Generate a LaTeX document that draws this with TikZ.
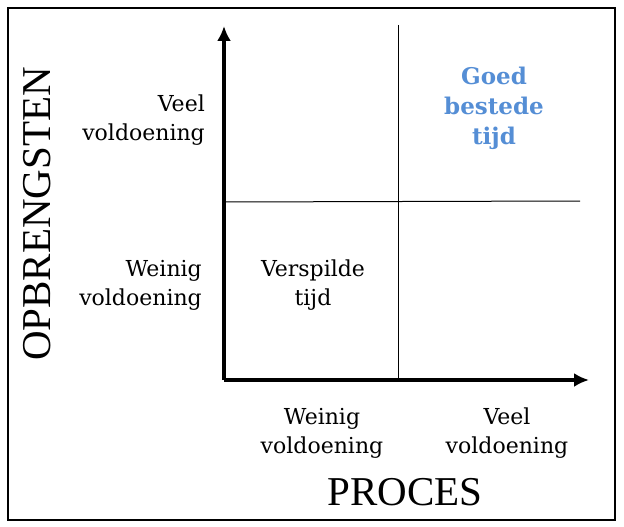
\documentclass[tikz,border=0pt]{standalone}
\usepackage{fontspec}
\setmainfont{DejaVu Serif}
\newfontfamily\titlefont{Liberation Serif}
\usetikzlibrary{positioning, arrows.meta}
\definecolor{goodblue}{RGB}{85,142,213}

\begin{document}
\begin{tikzpicture}[
      x=1pt, y=-1pt,
      every node/.style={inner sep=0pt, align=center, font=\fontsize{22}{29}\selectfont},
      axis/.style={line width=3.5pt, -{Latex[length=15pt, width=14pt]}},
      divider/.style={line width=1pt},
      title/.style={font=\titlefont\fontsize{41}{41}\selectfont}
    ]
    \useasboundingbox (0,0) rectangle (624,527);
    \draw[line width=2pt] (8,8) rectangle (615,520);

    \coordinate (origin) at (224,380);
    \coordinate (ytop) at (224,26);
    \coordinate (xend) at (589,380);
    \coordinate (midtop) at (398,25);
    \coordinate (midbot) at (398,380);
    \coordinate (midleft) at (224,202);
    \coordinate (midright) at (580,201);

    \draw[divider] (midtop) -- (midbot);
    \draw[divider] (midleft) -- (midright);
    \draw[axis] (origin) -- (ytop);
    \draw[axis] (origin) -- (xend);

    \node (yhigh) [anchor=east, align=right] at (205,120) {Veel\\voldoening};
    \node (ylow) [anchor=east, align=right] at (202,285) {Weinig\\voldoening};
    \node (wasted) at (313,285) {Verspilde\\tijd};
    \node (good) [text=goodblue, font=\bfseries\fontsize{23}{30}\selectfont] at (494,108) {Goed\\bestede\\tijd};
    \node (xlow) at (322,433) {Weinig\\voldoening};
    \node (xhigh) at (507,433) {Veel\\voldoening};

    \node (proces) [title] at (405,492) {PROCES};
    \node (opbrengsten) [title, rotate=90] at (37,214) {OPBRENGSTEN};
  \end{tikzpicture}
\end{document}
